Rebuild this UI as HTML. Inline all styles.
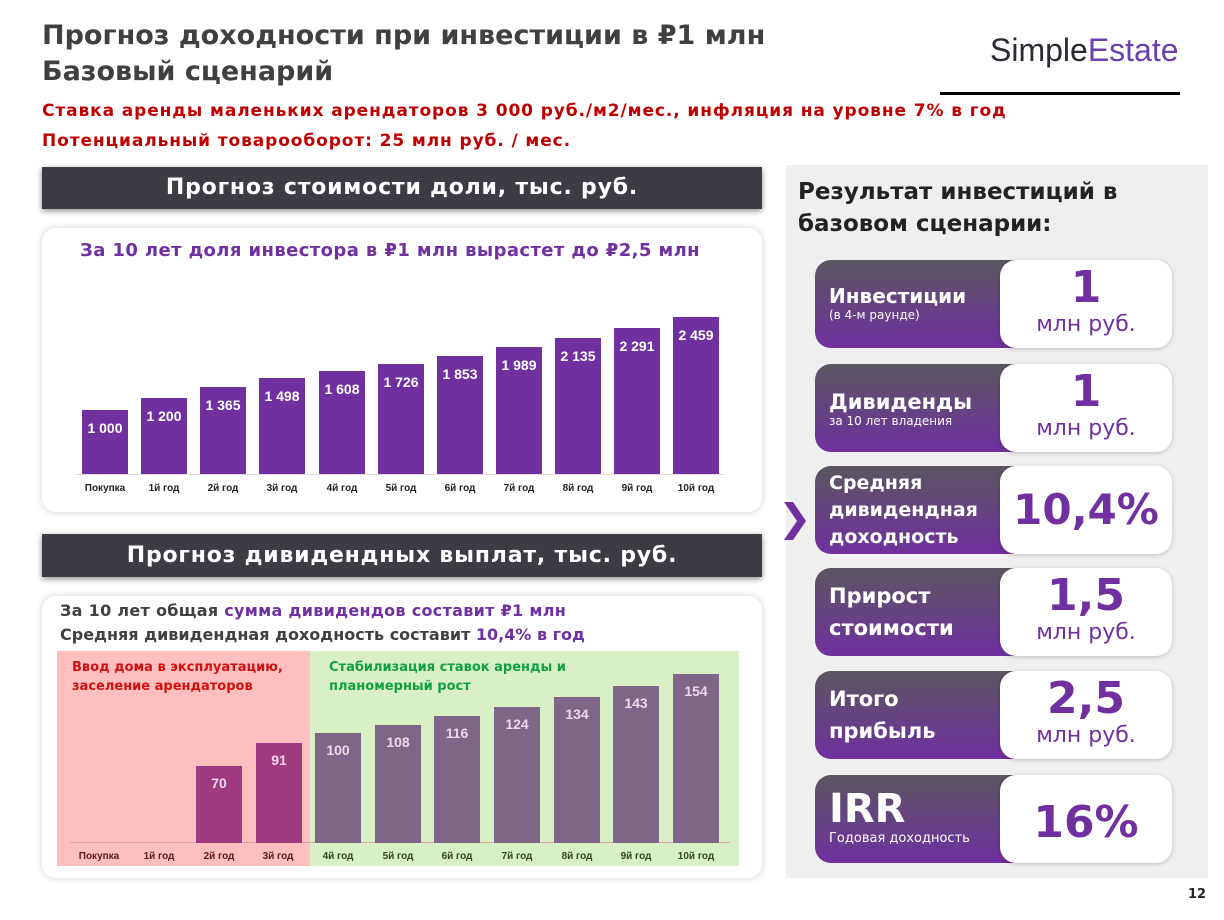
<!DOCTYPE html>
<html><head><meta charset="utf-8"><style>
*{margin:0;padding:0;box-sizing:border-box}
body{width:1224px;height:920px;background:#fff;position:relative;overflow:hidden;font-family:"DejaVu Sans","Liberation Sans",sans-serif;font-weight:bold}
.a{position:absolute}
.L{font-family:"Liberation Sans",sans-serif}
.t{color:#404040;font-size:27px;left:42px}
.red{color:#c00000;font-size:17px;left:42px;letter-spacing:0.9px}
.ban{background:#3f3b44;color:#fff;font-size:22px;letter-spacing:0.8px;text-align:center;line-height:42px;box-shadow:0 2px 6px rgba(0,0,0,.45);left:42px;width:720px}
.card{background:#fff;border-radius:14px;box-shadow:0 0 8px rgba(0,0,0,.18);left:42px;width:720px}
.bar{position:absolute;background:#7030a0;width:46px;color:#fff;font-size:14px;text-align:center;padding-top:10px;font-family:"Liberation Sans",sans-serif}
.cat{position:absolute;font-size:10px;color:#222;width:60px;text-align:center;font-family:"Liberation Sans",sans-serif}
.b2{position:absolute;width:46px;color:#f3d6ea;font-size:14px;text-align:center;padding-top:9px;font-family:"Liberation Sans",sans-serif}
.row{position:absolute;left:815px;width:357px;height:88px}
.rl{position:absolute;left:0;top:0;width:200px;height:88px;border-radius:16px 0 0 16px;background:linear-gradient(#5a5660,#7030a0);color:#fff;padding-left:14px}
.rr{position:absolute;left:185px;top:0;width:172px;height:88px;border-radius:16px;background:#fff;box-shadow:0 1px 5px rgba(0,0,0,.2);color:#7030a0;text-align:center}
.big{font-size:44px;line-height:48px;display:block;margin-top:4px}
.sm{font-size:22px;font-weight:normal;display:block}
</style></head><body>
<div class="a t" style="top:20px">Прогноз доходности при инвестиции в ₽1 млн</div>
<div class="a t" style="top:56px">Базовый сценарий</div>
<div class="a L" style="left:990px;top:32px;font-size:32px;font-weight:normal;color:#2a2a33">Simple<span style="color:#6a3fb0">Estate</span></div>
<div class="a" style="left:940px;top:92px;width:240px;height:3px;background:#000"></div>
<div class="a red" style="top:101px">Ставка аренды маленьких арендаторов 3 000 руб./м2/мес., инфляция на уровне 7% в год</div>
<div class="a red" style="top:131px">Потенциальный товарооборот: 25 млн руб. / мес.</div>

<div class="a ban" style="top:167px;height:42px">Прогноз стоимости доли, тыс. руб.</div>
<div class="a card" style="top:228px;height:284px"></div>
<div class="a" style="left:80px;top:240px;font-size:18px;letter-spacing:0.4px;color:#7030a0">За 10 лет доля инвестора в ₽1 млн вырастет до ₽2,5 млн</div>
<div class="a" style="left:75px;top:474px;width:650px;height:1px;background:#ddd"></div>
<div class="bar" style="left:82px;top:410px;height:64px">1 000</div>
<div class="bar" style="left:141px;top:398px;height:76px">1 200</div>
<div class="bar" style="left:200px;top:387px;height:87px">1 365</div>
<div class="bar" style="left:259px;top:378px;height:96px">1 498</div>
<div class="bar" style="left:319px;top:371px;height:103px">1 608</div>
<div class="bar" style="left:378px;top:364px;height:110px">1 726</div>
<div class="bar" style="left:437px;top:356px;height:118px">1 853</div>
<div class="bar" style="left:496px;top:347px;height:127px">1 989</div>
<div class="bar" style="left:555px;top:338px;height:136px">2 135</div>
<div class="bar" style="left:614px;top:328px;height:146px">2 291</div>
<div class="bar" style="left:673px;top:317px;height:157px">2 459</div>
<div class="cat" style="left:75px;top:483px">Покупка</div>
<div class="cat" style="left:134px;top:483px">1й год</div>
<div class="cat" style="left:193px;top:483px">2й год</div>
<div class="cat" style="left:252px;top:483px">3й год</div>
<div class="cat" style="left:312px;top:483px">4й год</div>
<div class="cat" style="left:371px;top:483px">5й год</div>
<div class="cat" style="left:430px;top:483px">6й год</div>
<div class="cat" style="left:489px;top:483px">7й год</div>
<div class="cat" style="left:548px;top:483px">8й год</div>
<div class="cat" style="left:607px;top:483px">9й год</div>
<div class="cat" style="left:666px;top:483px">10й год</div>

<div class="a ban" style="top:534px;height:43px;line-height:43px">Прогноз дивидендных выплат, тыс. руб.</div>
<div class="a card" style="top:596px;height:282px"></div>
<div class="a" style="left:60px;top:601px;font-size:16px;letter-spacing:0.3px;color:#7030a0"><span style="color:#404040">За 10 лет общая</span> сумма дивидендов составит ₽1 млн</div>
<div class="a" style="left:60px;top:625px;font-size:16px;color:#404040">Средняя дивидендная доходность составит <span style="color:#7030a0">10,4% в год</span></div>
<div class="a" style="left:57px;top:651px;width:253px;height:215px;background:#ffbfbf"></div>
<div class="a" style="left:310px;top:651px;width:429px;height:215px;background:#d9f0c6"></div>
<div class="a" style="left:72px;top:658px;font-size:13px;color:#d01010;line-height:19px">Ввод дома в эксплуатацию,<br>заселение арендаторов</div>
<div class="a" style="left:329px;top:658px;font-size:13px;color:#10a040;line-height:19px">Стабилизация ставок аренды и<br>планомерный рост</div>
<div class="a" style="left:70px;top:842px;width:660px;height:1px;background:#d8a8a8"></div>
<div class="b2" style="left:196px;top:766px;height:77px;background:#9e3a80">70</div>
<div class="b2" style="left:256px;top:743px;height:100px;background:#9e3a80">91</div>
<div class="b2" style="left:315px;top:733px;height:110px;background:#7f6687">100</div>
<div class="b2" style="left:375px;top:725px;height:118px;background:#7f6687">108</div>
<div class="b2" style="left:434px;top:716px;height:127px;background:#7f6687">116</div>
<div class="b2" style="left:494px;top:707px;height:136px;background:#7f6687">124</div>
<div class="b2" style="left:554px;top:697px;height:146px;background:#7f6687">134</div>
<div class="b2" style="left:613px;top:686px;height:157px;background:#7f6687">143</div>
<div class="b2" style="left:673px;top:674px;height:169px;background:#7f6687">154</div>
<div class="cat" style="left:69px;top:851px;color:#5a1a1a">Покупка</div>
<div class="cat" style="left:129px;top:851px;color:#5a1a1a">1й год</div>
<div class="cat" style="left:189px;top:851px;color:#5a1a1a">2й год</div>
<div class="cat" style="left:248px;top:851px;color:#5a1a1a">3й год</div>
<div class="cat" style="left:308px;top:851px;color:#2a4a1a">4й год</div>
<div class="cat" style="left:368px;top:851px;color:#2a4a1a">5й год</div>
<div class="cat" style="left:427px;top:851px;color:#2a4a1a">6й год</div>
<div class="cat" style="left:487px;top:851px;color:#2a4a1a">7й год</div>
<div class="cat" style="left:547px;top:851px;color:#2a4a1a">8й год</div>
<div class="cat" style="left:606px;top:851px;color:#2a4a1a">9й год</div>
<div class="cat" style="left:666px;top:851px;color:#2a4a1a">10й год</div>

<div class="a" style="left:786px;top:165px;width:422px;height:713px;background:#efefef"></div>
<div class="a" style="left:798px;top:176px;font-size:23px;color:#222;line-height:32px">Результат инвестиций в<br>базовом сценарии:</div>
<svg class="a" style="left:782px;top:500px" width="26" height="42"><polygon points="2,2 11,2 24,21 11,40 2,40 15,21" fill="#7030a0"/></svg>

<div class="row" style="top:260px"><div class="rl"><div style="font-size:20px;margin-top:24px">Инвестиции</div><div style="font-size:12px;font-weight:normal">(в 4-м раунде)</div></div><div class="rr"><span class="big">1</span><span class="sm">млн руб.</span></div></div>
<div class="row" style="top:364px"><div class="rl"><div style="font-size:21px;margin-top:26px">Дивиденды</div><div style="font-size:12px;font-weight:normal">за 10 лет владения</div></div><div class="rr"><span class="big">1</span><span class="sm">млн руб.</span></div></div>
<div class="row" style="top:466px"><div class="rl"><div style="font-size:19px;line-height:27px;margin-top:4px">Средняя<br>дивидендная<br>доходность</div></div><div class="rr"><span style="font-size:42px;line-height:88px">10,4%</span></div></div>
<div class="row" style="top:568px"><div class="rl"><div style="font-size:21px;line-height:32px;margin-top:12px">Прирост<br>стоимости</div></div><div class="rr"><span class="big">1,5</span><span class="sm">млн руб.</span></div></div>
<div class="row" style="top:671px"><div class="rl"><div style="font-size:21px;line-height:32px;margin-top:12px">Итого<br>прибыль</div></div><div class="rr"><span class="big">2,5</span><span class="sm">млн руб.</span></div></div>
<div class="row" style="top:775px"><div class="rl"><div style="font-size:40px;margin-top:12px;line-height:44px">IRR</div><div style="font-size:13px;font-weight:normal">Годовая доходность</div></div><div class="rr"><span style="font-size:44px;line-height:96px">16%</span></div></div>

<div class="a" style="left:1188px;top:887px;font-size:13px;color:#222">12</div>
</body></html>
